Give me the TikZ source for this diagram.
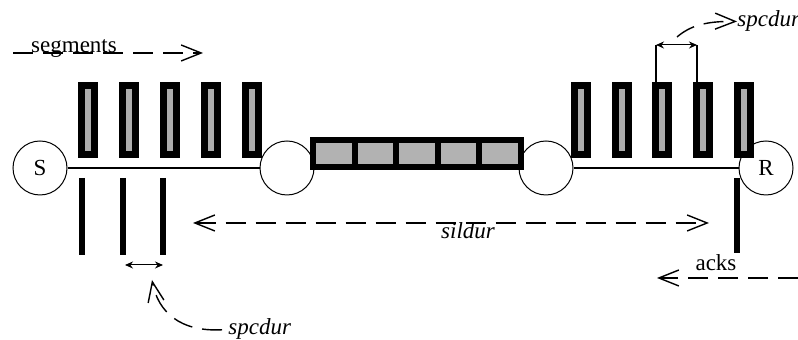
\documentclass[tikz,border=0pt]{standalone}
\usepackage{fontspec}
\setmainfont{Liberation Serif}
\usetikzlibrary{arrows.meta}
\begin{document}
\begin{tikzpicture}[x=0.5pt,y=-0.5pt,
  station/.style={circle,draw,line width=0.5pt,minimum size=27pt,inner sep=0pt,font=\fontsize{11.5}{13}\selectfont},
  segbox/.style={rectangle,draw=black,fill=black!32,line width=3.5pt,minimum width=6.5pt,minimum height=34.5pt,inner sep=0pt},
  cell/.style={rectangle,draw=black,fill=black!30,line width=3pt,minimum width=20.75pt,minimum height=13.5pt,inner sep=0pt},
  ackbar/.style={line width=3pt},
  link/.style={line width=1pt},
  lbl/.style={font=\fontsize{11.5}{13}\selectfont,inner sep=0pt},
  ilbl/.style={font=\fontsize{11.5}{13}\selectfont\itshape,inner sep=0pt},
  dsh/.style={line width=0.7pt,dash pattern=on 10pt off 5pt},
  barb/.style={-{Straight Barb[length=10pt,width=8pt]}},
  dbarb/.style={{Straight Barb[length=10pt,width=8pt]}-{Straight Barb[length=10pt,width=8pt]}},
  small/.style={line width=0.5pt,{Stealth[length=4pt,width=3.5pt]}-{Stealth[length=4pt,width=3.5pt]}}
]
\useasboundingbox (0,0) rectangle (798,340);
\fill[white] (0,0) rectangle (798,340);

% stations
\node[station] (S) at (40,168) {S};
\node[station] (c1) at (287,168) {};
\node[station] (c2) at (546,168) {};
\node[station] (R) at (766,168) {R};
\draw[link] (S) -- (c1);
\draw[link] (c2) -- (R);

% queue
\foreach \i in {1,...,5} {
  \node[cell] (q\i) at ({313+41.5*(\i-1)+20.75},153.5) {};
}

% left segments
\foreach \i in {1,...,5} {
  \node[segbox] (L\i) at ({88+41*(\i-1)},120) {};
}
% right segments
\foreach \i in {1,...,5} {
  \node[segbox] (G\i) at ({581+40.7*(\i-1)},120) {};
}

% left acks
\foreach \x/\n in {82/a1,123/a2,163/a3} {
  \coordinate (\n t) at (\x,178);
  \coordinate (\n b) at (\x,255);
  \draw[ackbar] (\n t) -- (\n b);
}
% right ack
\coordinate (a4t) at (737,178);
\coordinate (a4b) at (737,253);
\draw[ackbar] (a4t) -- (a4b);

% left spacing arrow
\coordinate (sl1) at (125,265);
\coordinate (sl2) at (163,265);
\draw[small] (sl1) -- (sl2);
\node[ilbl,anchor=base west] (spcL) at (228,335) {spcdur};
\coordinate (spcLa) at (152,280);
\draw[dsh,barb,shorten <=3pt] (spcL.west) .. controls (180,332) and (158,312) .. (spcLa);

% right spacing bracket
\coordinate (b1) at (656,45);
\coordinate (b2) at (697,45);
\coordinate (g3t) at (656,82);
\coordinate (g4t) at (697,82);
\draw[line width=0.6pt] (g3t) -- (b1);
\draw[line width=0.6pt] (g4t) -- (b2);
\draw[small] (b1) -- (b2);
\node[ilbl,anchor=base west] (spcR) at (737,27) {spcdur};
\coordinate (spcRs) at (677,37);
\draw[dsh,barb] (spcRs) .. controls (690,26) and (705,21) .. (spcR.west);

% segments label
\coordinate (sg1) at (13,53);
\coordinate (sg2) at (203,53);
\draw[dsh,barb] (sg1) -- (sg2);
\node[lbl,anchor=base] (seg) at (74,53) {segments};

% sildur
\coordinate (sd1) at (193,223);
\coordinate (sd2) at (709,223);
\draw[dsh,dbarb] (sd1) -- (sd2);
\node[ilbl,anchor=base] (sild) at (468,239) {sildur};

% acks
\coordinate (ak1) at (798,278);
\coordinate (ak2) at (657,278);
\draw[dsh,barb] (ak1) -- (ak2);
\node[lbl,anchor=base] (acks) at (716,271) {acks};
\end{tikzpicture}
\end{document}
